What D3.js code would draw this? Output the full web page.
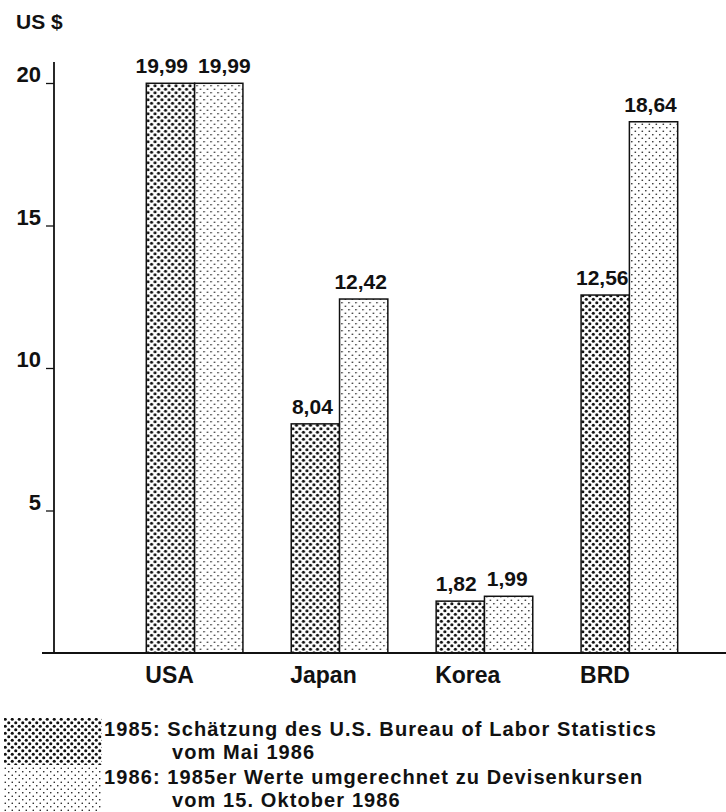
<!DOCTYPE html>
<html>
<head>
<meta charset="utf-8">
<script src="https://cdn.jsdelivr.net/npm/d3@7"></script>
<style>
  html, body { margin: 0; padding: 0; background: #fff; }
  svg { display: block; }
  text { font-family: "Liberation Sans", Arial, Helvetica, sans-serif; font-weight: bold; fill: #111; }
</style>
</head>
<body>
<script>
const categories = ["USA", "Japan", "Korea", "BRD"];
const seriesKeys = ["1985", "1986"];
const values1985 = [19.99, 8.04, 1.82, 12.56];
const values1986 = [19.99, 12.42, 1.99, 18.64];
const valueLabels1985 = ["19,99", "8,04", "1,82", "12,56"];
const valueLabels1986 = ["19,99", "12,42", "1,99", "18,64"];
const yTicks = [5, 10, 15, 20];
const yTickLabels = ["5", "10", "15", "20"];
const unitLabel = "US $";
const legendLines = [
  ["1985: Schätzung des U.S. Bureau of Labor Statistics", "vom Mai 1986"],
  ["1986: 1985er Werte umgerechnet zu Devisenkursen", "vom 15. Oktober 1986"]
];

const W = 726, H = 812;
const svg = d3.select("body").append("svg").attr("width", W).attr("height", H);

const defs = svg.append("defs");
function makePattern(id, r) {
  const p = defs.append("pattern").attr("id", id).attr("patternUnits", "userSpaceOnUse")
    .attr("width", 7).attr("height", 7);
  p.append("rect").attr("width", 7).attr("height", 7).attr("fill", "#fff");
  p.append("circle").attr("cx", 1.75).attr("cy", 1.75).attr("r", r).attr("fill", "#111");
  p.append("circle").attr("cx", 5.25).attr("cy", 5.25).attr("r", r).attr("fill", "#111");
}
makePattern("pat1985", 1.55);
makePattern("pat1986", 0.8);
const fills = { "1985": "url(#pat1985)", "1986": "url(#pat1986)" };

const axisX = 54, baseY = 653;
const y = d3.scaleLinear().domain([0, 20]).range([baseY, 83]);
const x0 = d3.scaleBand().domain(categories).range([98, 726]).paddingInner(1/3).paddingOuter(1/3);
const x1 = d3.scaleBand().domain(seriesKeys).range([0, x0.bandwidth()]);

const data = categories.map((c, i) => ({
  cat: c,
  bars: [
    { key: "1985", v: values1985[i], label: valueLabels1985[i] },
    { key: "1986", v: values1986[i], label: valueLabels1986[i] }
  ]
}));

// unit label
svg.append("text").attr("x", 16).attr("y", 29).style("font-size", "21px").text(unitLabel);

// y axis
const yAxis = d3.axisLeft(y).tickValues(yTicks).tickFormat((d, i) => yTickLabels[i]).tickSize(8).tickPadding(4);
const gy = svg.append("g").attr("transform", `translate(${axisX},0)`).call(yAxis);
gy.select(".domain").remove();
gy.selectAll(".tick line").attr("stroke", "#111").attr("stroke-width", 1.3);
gy.selectAll(".tick text").attr("dy", "-0.05em").attr("x", -13)
  .style("font-size", "22px").style("font-family", "'Liberation Sans', Arial, sans-serif").style("font-weight", "bold").attr("fill", "#111");
svg.append("line").attr("x1", axisX).attr("x2", axisX).attr("y1", 62).attr("y2", baseY)
  .attr("stroke", "#111").attr("stroke-width", 1.8);

// bars
const groups = svg.selectAll("g.grp").data(data).enter().append("g").attr("class", "grp")
  .attr("transform", d => `translate(${x0(d.cat)},0)`);
groups.selectAll("rect").data(d => d.bars).enter().append("rect")
  .attr("x", d => x1(d.key))
  .attr("y", d => y(d.v))
  .attr("width", x1.bandwidth())
  .attr("height", d => baseY - y(d.v))
  .attr("fill", d => fills[d.key])
  .attr("stroke", "#111").attr("stroke-width", 1.5);
groups.each(function(d) {
  const g = d3.select(this);
  const texts = g.selectAll("text.val").data(d.bars).enter().append("text").attr("class", "val")
    .attr("x", b => x1(b.key) + x1.bandwidth() / 2 - 3)
    .attr("y", b => y(b.v) - 10)
    .attr("text-anchor", "middle")
    .style("font-size", "21px")
    .text(b => b.label);
  // separate labels of a pair if they collide
  const nodes = texts.nodes();
  const w0 = nodes[0].getComputedTextLength(), w1 = nodes[1].getComputedTextLength();
  const c0 = +nodes[0].getAttribute("x"), c1 = +nodes[1].getAttribute("x");
  const ya = +nodes[0].getAttribute("y"), yb = +nodes[1].getAttribute("y");
  if (Math.abs(ya - yb) < 22) {
    const gap = (c1 - w1 / 2) - (c0 + w0 / 2);
    const need = 10 - gap;
    if (need > 0) {
      nodes[0].setAttribute("x", c0 - need * 0.4);
      nodes[1].setAttribute("x", c1 + need * 0.6);
    }
  }
});

// x axis baseline
svg.append("line").attr("x1", 42).attr("x2", W).attr("y1", baseY).attr("y2", baseY)
  .attr("stroke", "#111").attr("stroke-width", 1.8);

// category labels
svg.selectAll("text.cat").data(categories).enter().append("text").attr("class", "cat")
  .attr("x", d => x0(d) - 1)
  .attr("y", 683)
  .style("font-size", "23px")
  .text(d => d);

// legend
const legendTop = [718, 767];
const legendBottom = [765, 812];
const legendBase = [736, 784];
seriesKeys.forEach((k, i) => {
  svg.append("rect").attr("x", 4).attr("y", legendTop[i]).attr("width", 98)
    .attr("height", legendBottom[i] - legendTop[i]).attr("fill", fills[k]);
  svg.append("text").attr("x", 104).attr("y", legendBase[i]).style("font-size", "20px")
    .style("letter-spacing", "1.1px").text(legendLines[i][0]);
  svg.append("text").attr("x", 172).attr("y", legendBase[i] + 23).style("font-size", "20px")
    .style("letter-spacing", "1.1px").text(legendLines[i][1]);
});
</script>
</body>
</html>
